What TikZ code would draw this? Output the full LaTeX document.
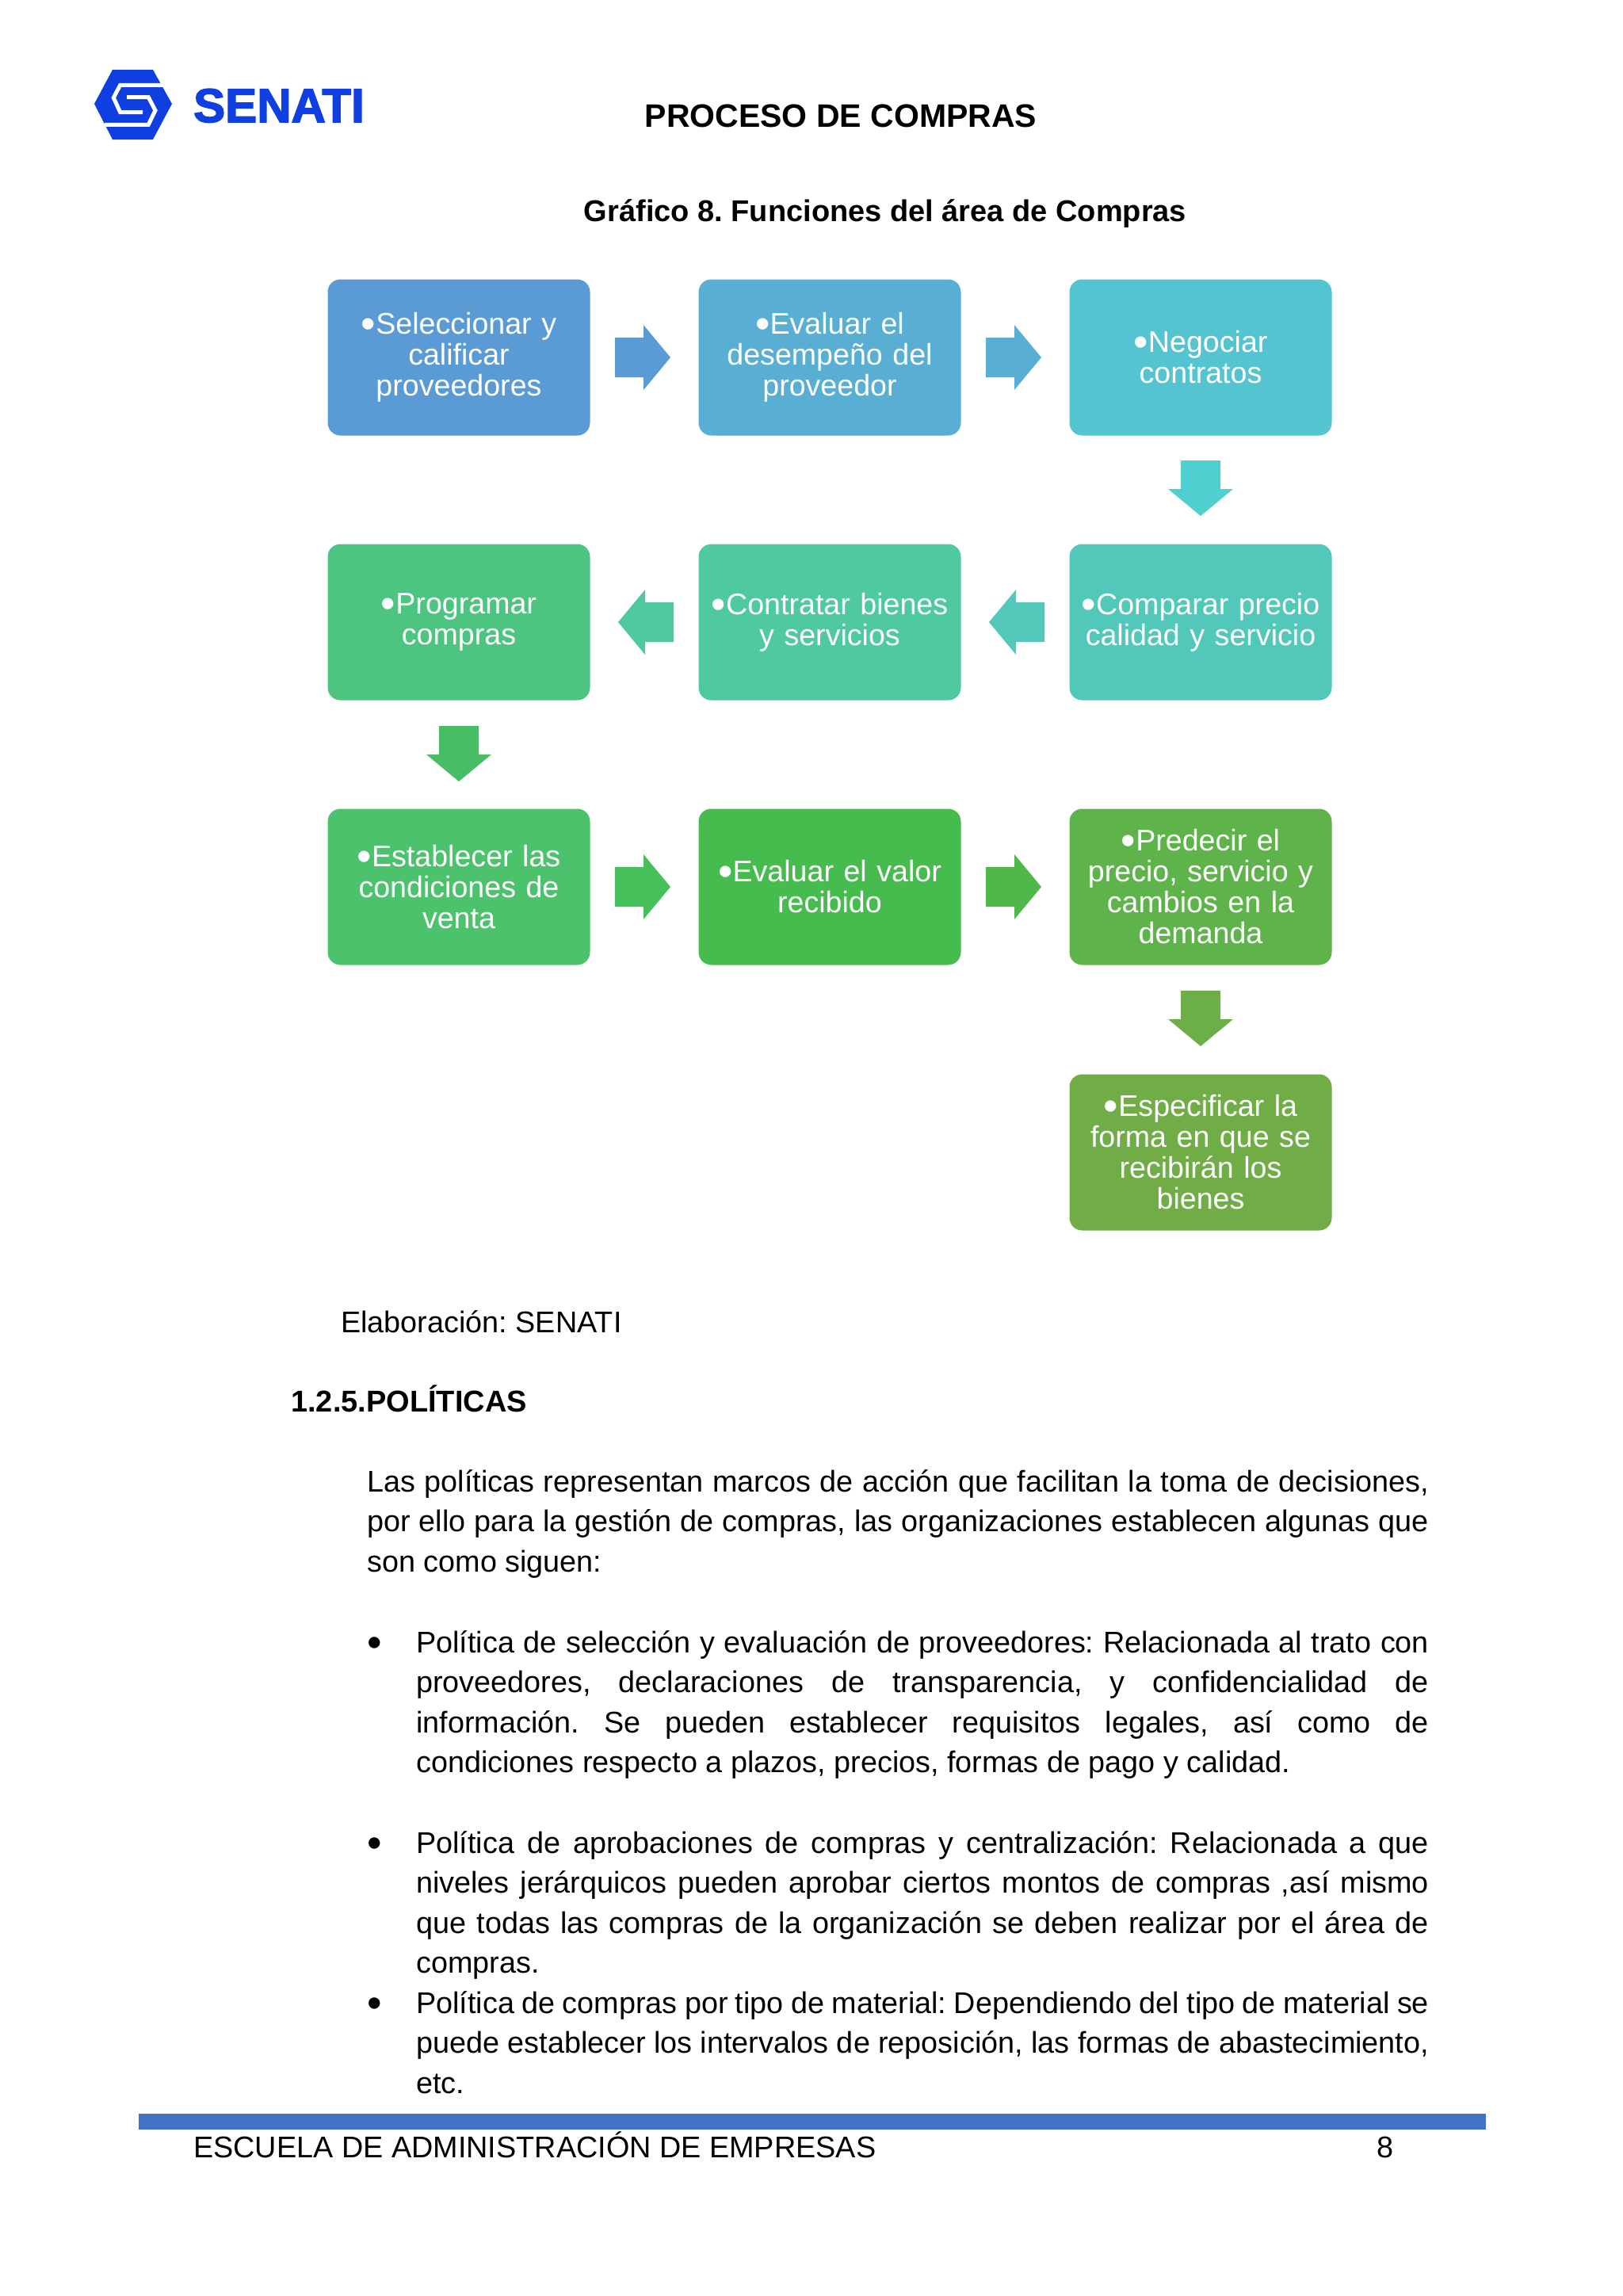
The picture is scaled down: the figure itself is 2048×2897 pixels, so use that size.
\documentclass[tikz,border=0pt]{standalone}
\usepackage{graphicx}
\usepackage{fontspec}
\setmainfont{Liberation Sans}
\newfontfamily\logofont[BoldFeatures={FakeBold=2.5}]{Liberation Sans}
\frenchspacing
\definecolor{senati}{HTML}{0F3FE0}
\definecolor{cA}{HTML}{5B9BD5}
\definecolor{cB}{HTML}{58AFD3}
\definecolor{cC}{HTML}{54C4D0}
\definecolor{cD}{HTML}{51C8BA}
\definecolor{cE}{HTML}{4FC9A0}
\definecolor{cF}{HTML}{4DC581}
\definecolor{cG}{HTML}{4CC26C}
\definecolor{cH}{HTML}{47BC4E}
\definecolor{cI}{HTML}{5EB44B}
\definecolor{cJ}{HTML}{70AD47}
\definecolor{aC}{HTML}{4FCFD0}
\definecolor{aF}{HTML}{47BE66}
\definecolor{aG}{HTML}{45C05A}
\definecolor{aH}{HTML}{50B84B}
\definecolor{aI}{HTML}{6CAE48}
\definecolor{bar}{HTML}{4472C4}
\newcommand{\bul}{\raisebox{-0.13em}{\scalebox{1.4}{•}}}
\newcommand{\lead}{\leavevmode\rule{0pt}{30pt}}
\tikzset{
  x=1pt,y=-1pt,
  flowbox/.style={rounded corners=16pt,minimum width=331pt,minimum height=197pt,inner sep=4pt,text width=322pt,align=center,text=white,font=\fontsize{37.6}{39}\selectfont},
  pagetext/.style={anchor=north west,inner sep=0pt,text=black,font=\fontsize{37.8}{50.5}\selectfont},
  bodytext/.style={pagetext,text width=1340pt,align=justify},
  listtext/.style={bodytext,text width=1278pt},
  headtext/.style={anchor=base,inner sep=0pt,text=black,font=\fontsize{41}{49}\selectfont\bfseries},
}
\newcommand{\arrR}[3]{\fill[#3] (#1-70,#2-25) -- (#1-34,#2-25) -- (#1-34,#2-41) -- (#1,#2) -- (#1-34,#2+41) -- (#1-34,#2+25) -- (#1-70,#2+25) -- cycle;}
\newcommand{\arrL}[3]{\fill[#3] (#1+70,#2-25) -- (#1+34,#2-25) -- (#1+34,#2-41) -- (#1,#2) -- (#1+34,#2+41) -- (#1+34,#2+25) -- (#1+70,#2+25) -- cycle;}
\newcommand{\arrD}[3]{\fill[#3] (#1-25,#2-70) -- (#1-25,#2-34) -- (#1-41,#2-34) -- (#1,#2) -- (#1+41,#2-34) -- (#1+25,#2-34) -- (#1+25,#2-70) -- cycle;}
\begin{document}
\begin{tikzpicture}
\useasboundingbox[fill=white] (0,0) rectangle (2048,2897);
% logo
\fill[senati] (142,88) -- (193,88) -- (217,131) -- (193,176) -- (142,176) -- (119,131) -- cycle;
\draw[white,line width=5pt,line join=miter] (207,107.3) -- (151.7,107.3) -- (143.3,123.3) -- (151.7,141.7) -- (180,141.7);
\draw[white,line width=5pt,line join=miter] (132,157.3) -- (187.3,157.3) -- (196,139.3) -- (187.3,122.7) -- (160,122.7);
\node[anchor=base west,inner sep=0pt,text=senati,font=\logofont\fontsize{60}{62}\selectfont\bfseries] (logotext) at (244,154) {SENATI};
% headings
\node[headtext] (title) at (1061,160) {PROCESO DE COMPRAS};
\node[headtext,font=\fontsize{38}{49}\selectfont\bfseries] (caption) at (1117,279) {Gráfico 8. Funciones del área de Compras};
% flow boxes
\node[flowbox,fill=cA] (n1) at (579,451) {\bul Seleccionar y\\calificar\\proveedores};
\node[flowbox,fill=cB] (n2) at (1047,451) {\bul Evaluar el\\desempeño del\\proveedor};
\node[flowbox,fill=cC] (n3) at (1515,451) {\bul Negociar\\contratos};
\node[flowbox,fill=cD] (n4) at (1515,785) {\bul Comparar precio\\calidad y servicio};
\node[flowbox,fill=cE] (n5) at (1047,785) {\bul Contratar bienes\\y servicios};
\node[flowbox,fill=cF] (n6) at (579,785) {\bul Programar\\compras};
\node[flowbox,fill=cG] (n7) at (579,1119) {\bul Establecer las\\condiciones de\\venta};
\node[flowbox,fill=cH] (n8) at (1047,1119) {\bul Evaluar el valor\\recibido};
\node[flowbox,fill=cI] (n9) at (1515,1119) {\bul Predecir el\\precio, servicio y\\cambios en la\\demanda};
\node[flowbox,fill=cJ] (n10) at (1515,1454) {\bul Especificar la\\forma en que se\\recibirán los\\bienes};
% block arrows
\arrR{846}{451}{cA}
\arrR{1314}{451}{cB}
\arrD{1515}{651}{aC}
\arrL{1248}{785}{cD}
\arrL{780}{785}{cE}
\arrD{579}{986}{aF}
\arrR{846}{1119}{aG}
\arrR{1314}{1119}{aH}
\arrD{1515}{1320}{aI}
% text
\node[pagetext] (elab) at (430,1651) {\lead Elaboración: SENATI};
\node[pagetext,font=\fontsize{38}{50.5}\selectfont\bfseries] (sec) at (367,1748) {\lead 1.2.5.POLÍTICAS};
\node[bodytext] (p1) at (463,1852) {\lead Las políticas representan marcos de acción que facilitan la toma de decisiones,\linebreak por ello para la gestión de compras, las organizaciones establecen algunas que\linebreak son como siguen:};
\node[pagetext] (b1) at (463,2055) {\lead\bul};
\node[listtext] (p2) at (525,2055) {\lead Política de selección y evaluación de proveedores: Relacionada al trato con\linebreak proveedores, declaraciones de transparencia, y confidencialidad de\linebreak información. Se pueden establecer requisitos legales, así como de\linebreak condiciones respecto a plazos, precios, formas de pago y calidad.};
\node[pagetext] (b2) at (463,2308) {\lead\bul};
\node[listtext] (p3) at (525,2308) {\lead Política de aprobaciones de compras y centralización: Relacionada a que\linebreak niveles jerárquicos pueden aprobar ciertos montos de compras ,así mismo\linebreak que todas las compras de la organización se deben realizar por el área de\linebreak compras.};
\node[pagetext] (b3) at (463,2510) {\lead\bul};
\node[listtext] (p4) at (525,2510) {\lead Política de compras por tipo de material: Dependiendo del tipo de material se\linebreak puede establecer los intervalos de reposición, las formas de abastecimiento,\linebreak etc.};
% footer
\fill[bar] (175,2667) rectangle (1875,2687);
\node[pagetext,anchor=base west] (foot) at (244,2722) {ESCUELA DE ADMINISTRACIÓN DE EMPRESAS};
\node[pagetext,anchor=base] (page) at (1748,2722) {8};
\end{tikzpicture}
\end{document}
